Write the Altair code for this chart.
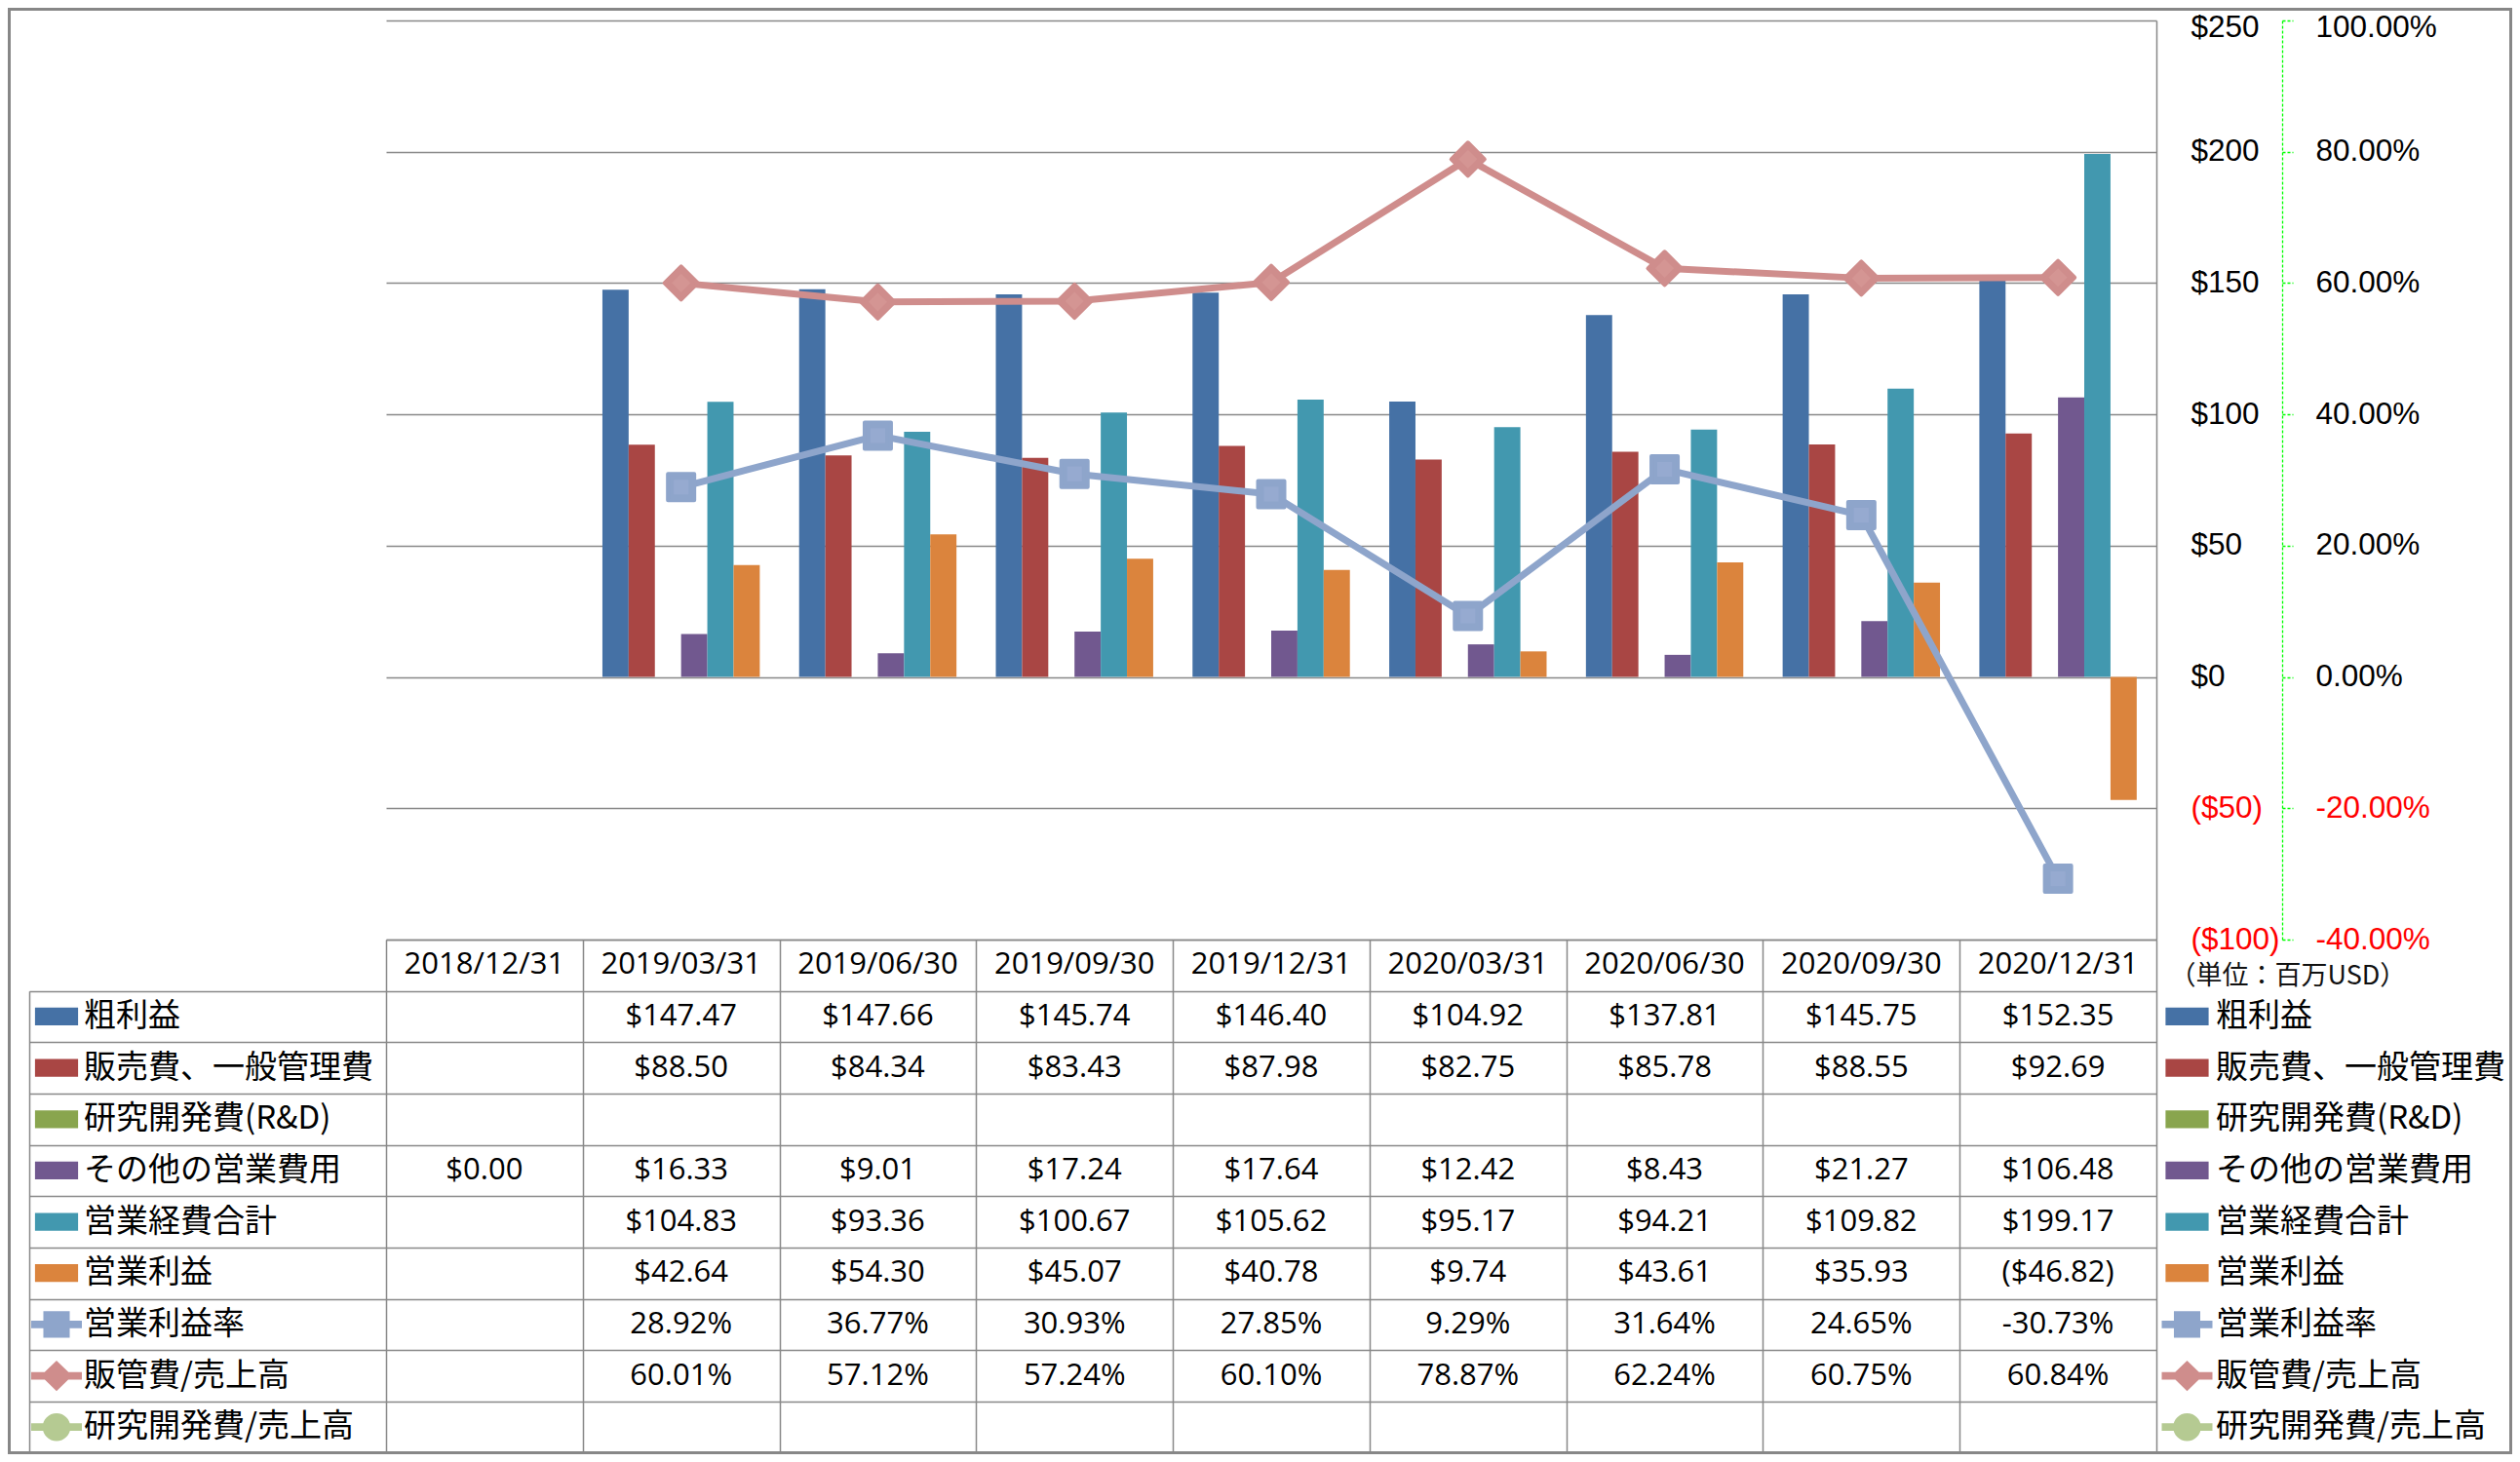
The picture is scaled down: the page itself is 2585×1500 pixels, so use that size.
import altair as alt
import pandas as pd

# ---------------- data ----------------
dates = ["2018/12/31", "2019/03/31", "2019/06/30", "2019/09/30", "2019/12/31",
         "2020/03/31", "2020/06/30", "2020/09/30", "2020/12/31"]

bar_series = ["粗利益", "販売費、一般管理費", "研究開発費(R&D)", "その他の営業費用", "営業経費合計", "営業利益"]
line_series = ["営業利益率", "販管費/売上高", "研究開発費/売上高"]
all_series = bar_series + line_series

gross_profit = [None, 147.47, 147.66, 145.74, 146.40, 104.92, 137.81, 145.75, 152.35]
sga = [None, 88.50, 84.34, 83.43, 87.98, 82.75, 85.78, 88.55, 92.69]
rnd = [None, None, None, None, None, None, None, None, None]
other_opex = [0.00, 16.33, 9.01, 17.24, 17.64, 12.42, 8.43, 21.27, 106.48]
total_opex = [None, 104.83, 93.36, 100.67, 105.62, 95.17, 94.21, 109.82, 199.17]
op_income = [None, 42.64, 54.30, 45.07, 40.78, 9.74, 43.61, 35.93, -46.82]

op_margin = [None, 28.92, 36.77, 30.93, 27.85, 9.29, 31.64, 24.65, -30.73]   # percent
sga_ratio = [None, 60.01, 57.12, 57.24, 60.10, 78.87, 62.24, 60.75, 60.84]   # percent
rnd_ratio = [None, None, None, None, None, None, None, None, None]

bar_values = [gross_profit, sga, rnd, other_opex, total_opex, op_income]
line_values = [op_margin, sga_ratio, rnd_ratio]

usd_ticks = [-100, -50, 0, 50, 100, 150, 200, 250]
pct_ticks = [-0.4, -0.2, 0.0, 0.2, 0.4, 0.6, 0.8, 1.0]
header_key = "日付"
unit_label = "（単位：百万USD）"

colors = ["#4571A5", "#A94644", "#89A54E", "#71588F", "#4298AF", "#DB843D",
          "#8EA5CB", "#CF8D8C", "#B5CA92"]
marker_inner = ["#96AAD0", "#D49593", "#BDD09C"]

# ---------------- styling ----------------
W, H = 1816, 943
TABLE_BOTTOM = 1469.5
ROW_H = (TABLE_BOTTOM - H) / 10
GRID = "#898989"
LATIN = "Open Sans"
AXIS_FONT = "Liberation Sans"
CJK = "Noto Sans CJK JP"
PAD = {"left": 388, "top": 13, "right": 365, "bottom": 528}   # total 2569 x 1484

# legend symbol paths (normalised to [-1, 1])
bar_sym = "M-0.85,-0.35H0.85V0.35H-0.85Z"
line_bar = "M-1,-0.15H1V0.15H-1Z "
sym_paths = [bar_sym] * 6 + [
    line_bar + "M-0.52,-0.52H0.52V0.52H-0.52Z",
    line_bar + "M0,-0.6L0.62,0L0,0.6L-0.62,0Z",
    line_bar + "M0.55,0A0.55,0.55 0 1,1 -0.55,0A0.55,0.55 0 1,1 0.55,0Z",
]


def usd(v):
    return f"${v:,.2f}" if v >= 0 else f"(${-v:,.2f})"


def pct(v):
    return f"{v:.2f}%"


# ---------------- tables ----------------
bar_rows, line_rows, table_rows = [], [], []
for d in dates:
    table_rows.append({"date": d, "row": header_key, "text": d})
for s, vals in zip(bar_series, bar_values):
    for d, v in zip(dates, vals):
        if v is not None:
            bar_rows.append({"date": d, "series": s, "value": v})
            table_rows.append({"date": d, "row": s, "text": usd(v)})
for s, vals in zip(line_series, line_values):
    for d, v in zip(dates, vals):
        if v is not None:
            line_rows.append({"date": d, "series": s, "value": v / 100.0})
            table_rows.append({"date": d, "row": s, "text": pct(v)})

bars_df = pd.DataFrame(bar_rows)
lines_df = pd.DataFrame(line_rows)
table_df = pd.DataFrame(table_rows)
legend_df = pd.DataFrame({"series": all_series, "slot": ["sw"] * len(all_series)})
unit_df = pd.DataFrame({"row": [header_key], "slot": ["sw"], "text": [unit_label]})
frame_df = pd.DataFrame({"k": [0]})

row_keys = [header_key] + all_series

color_scale = alt.Scale(domain=all_series, range=colors)
inner_scale = alt.Scale(domain=line_series, range=marker_inner)
x_dates = alt.Scale(type="band", domain=dates, paddingInner=0, paddingOuter=0)
usd_scale = alt.Scale(domain=[-100, 250], nice=False, zero=False)
pct_scale = alt.Scale(domain=[-0.4, 1.0], nice=False, zero=False)
row_scale = alt.Scale(type="band", domain=row_keys, range=[H, TABLE_BOTTOM], paddingInner=0, paddingOuter=0)
left_row_scale = alt.Scale(type="band", domain=all_series, range=[H + ROW_H, TABLE_BOTTOM],
                           paddingInner=0, paddingOuter=0)
left_slot = alt.Scale(type="band", domain=["sw"], range=[-360, -316], paddingInner=0, paddingOuter=0)
right_slot = alt.Scale(type="band", domain=["sw"], range=[1825, 1870], paddingInner=0, paddingOuter=0)
sym_scale = alt.Scale(domain=all_series, range=sym_paths)
marker_shapes = alt.Scale(domain=line_series, range=["square", "diamond", "circle"])

usd_axis = alt.Axis(
    orient="right", values=usd_ticks, title=None,
    labelExpr="datum.value < 0 ? '($' + abs(datum.value) + ')' : '$' + datum.value",
    labelColor=alt.expr("datum.value < 0 ? '#FF0000' : '#000000'"),
    labelOffset=alt.expr("datum.value == 250 ? 7 : 0"),
    grid=True, gridColor=GRID, gridWidth=1.5,
    domain=True, domainColor=GRID, domainWidth=1.5,
    ticks=False, tickSize=0, labelPadding=35, labelAlign="left", labelBaseline="middle",
    labelFont=AXIS_FONT, labelFontSize=31.5, labelOverlap=False, labelFlush=False,
)
pct_axis = alt.Axis(
    orient="right", offset=129, values=pct_ticks, title=None,
    labelExpr="replace(format(datum.value, '.2%'), '\u2212', '-')",
    labelColor=alt.expr("datum.value < 0 ? '#FF0000' : '#000000'"),
    labelOffset=alt.expr("datum.value == 1 ? 7 : 0"),
    grid=False, domainColor="#00FF00", domainDash=[3, 2], domainWidth=1.3,
    tickColor="#00FF00", tickDash=[3, 2], tickWidth=1.3, tickSize=11,
    labelPadding=23, labelAlign="left", labelBaseline="middle",
    labelFont=AXIS_FONT, labelFontSize=31.5, labelOverlap=False, labelFlush=False,
)
col_axis = alt.Axis(
    orient="bottom", title=None, labels=False, domain=False, grid=False,
    ticks=True, tickBand="extent", tickSize=TABLE_BOTTOM - H, tickColor=GRID, tickWidth=1.5,
)
row_axis = alt.Axis(
    orient="left", title=None, labels=False, domain=False,
    ticks=True, tickBand="extent", tickSize=366, tickWidth=1.5,
    tickColor=alt.expr("datum.extra ? 'transparent' : '#898989'"),
    grid=True, gridColor=GRID, gridWidth=1.5,
)
left_border_axis = alt.Axis(
    orient="left", offset=366, title=None, labels=False, ticks=False, grid=False,
    domain=True, domainColor=GRID, domainWidth=1.5,
)

# ---------------- layers ----------------
bars = alt.Chart(bars_df).mark_bar().encode(
    x=alt.X("date:N", scale=x_dates, axis=col_axis),
    xOffset=alt.XOffset("series:N", scale=alt.Scale(domain=bar_series, paddingInner=0, paddingOuter=0.75)),
    y=alt.Y("value:Q", scale=usd_scale, axis=usd_axis),
    color=alt.Color("series:N", scale=color_scale, legend=None),
)

lines = alt.Chart(lines_df).mark_line(strokeWidth=7, strokeJoin="round").encode(
    x=alt.X("date:N", scale=x_dates, axis=None),
    y=alt.Y("value:Q", scale=pct_scale, axis=pct_axis),
    color=alt.Color("series:N", scale=color_scale, legend=None),
)

points = alt.Chart(lines_df).mark_point(filled=True, opacity=1, strokeWidth=4, strokeJoin="round").encode(
    x=alt.X("date:N", scale=x_dates, axis=None),
    y=alt.Y("value:Q", scale=pct_scale, axis=None),
    color=alt.Color("series:N", scale=color_scale, legend=None),
    stroke=alt.Stroke("series:N", scale=color_scale, legend=None),
    shape=alt.Shape("series:N", scale=marker_shapes, legend=None),
    size=alt.Size("series:N", scale=alt.Scale(domain=line_series, range=[729, 1600, 700]), legend=None),
)

points_inner = alt.Chart(lines_df).mark_point(filled=True, opacity=1, strokeWidth=0).encode(
    x=alt.X("date:N", scale=x_dates, axis=None),
    y=alt.Y("value:Q", scale=pct_scale, axis=None),
    fill=alt.Fill("series:N", scale=inner_scale, legend=None),
    shape=alt.Shape("series:N", scale=marker_shapes, legend=None),
    size=alt.Size("series:N", scale=alt.Scale(domain=line_series, range=[230, 500, 230]), legend=None),
)

table = alt.Chart(table_df).mark_text(font=LATIN, fontSize=31, baseline="middle", align="center", color="#000000").encode(
    x=alt.X("date:N", scale=x_dates, axis=None),
    y=alt.Y("row:N", scale=row_scale, axis=row_axis),
    text="text:N",
)

left_sw = alt.Chart(legend_df).mark_point(filled=True, opacity=1, size=2704, strokeWidth=0).encode(
    x=alt.X("slot:N", scale=left_slot, axis=None),
    y=alt.Y("series:N", scale=left_row_scale, axis=left_border_axis),
    color=alt.Color("series:N", scale=color_scale, legend=None),
    shape=alt.Shape("series:N", scale=sym_scale, legend=None),
)
left_txt = alt.Chart(legend_df).mark_text(font=CJK, fontSize=33, align="left", baseline="middle", dx=28, color="#000000").encode(
    x=alt.X("slot:N", scale=left_slot, axis=None),
    y=alt.Y("series:N", scale=left_row_scale, axis=None),
    text="series:N",
)
right_sw = alt.Chart(legend_df).mark_point(filled=True, opacity=1, size=2704, strokeWidth=0).encode(
    x=alt.X("slot:N", scale=right_slot, axis=None),
    y=alt.Y("series:N", scale=row_scale, axis=None),
    color=alt.Color("series:N", scale=color_scale, legend=None),
    shape=alt.Shape("series:N", scale=sym_scale, legend=None),
)
right_txt = alt.Chart(legend_df).mark_text(font=CJK, fontSize=33, align="left", baseline="middle", dx=29.5, color="#000000").encode(
    x=alt.X("slot:N", scale=right_slot, axis=None),
    y=alt.Y("series:N", scale=row_scale, axis=None),
    text="series:N",
)
unit = alt.Chart(unit_df).mark_text(font=CJK, fontSize=27, align="left", baseline="middle", dx=-18, dy=12, color="#111111").encode(
    x=alt.X("slot:N", scale=right_slot, axis=None),
    y=alt.Y("row:N", scale=row_scale, axis=None),
    text="text:N",
)
frame = alt.Chart(frame_df).mark_rect(fillOpacity=0, stroke="#878787", strokeWidth=3).encode(
    x=alt.value(-PAD["left"] + 1.5), x2=alt.value(W + PAD["right"] - 1.5),
    y=alt.value(-PAD["top"] + 1.5), y2=alt.value(TABLE_BOTTOM),
)

chart = alt.layer(
    bars, lines, points, points_inner, table, left_sw, left_txt, right_sw, right_txt, unit, frame
).resolve_scale(
    x="independent", y="independent", shape="independent", size="independent", fill="independent"
).properties(
    width=W, height=H,
    padding=PAD,
    autosize=alt.AutoSizeParams(type="none"),
    background="white",
).configure_view(stroke=None)

chart.save("out.html", embed_options={"renderer": "svg", "actions": False})
